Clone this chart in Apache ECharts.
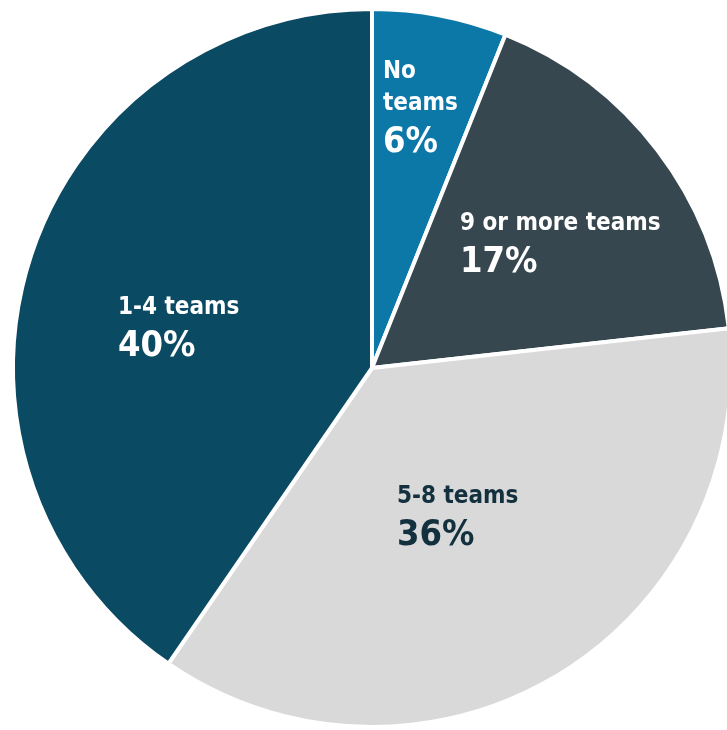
<!DOCTYPE html>
<html>
<head>
<meta charset="utf-8">
<script src="https://cdn.jsdelivr.net/npm/echarts@6/dist/echarts.min.js"></script>
<style>
  html, body { margin: 0; padding: 0; background: #ffffff; }
  #chart { width: 727px; height: 730px; }
</style>
</head>
<body>
<div id="chart"></div>
<script>
// Number of teams per respondent (share, %)
const categories = ['No\nteams', '9 or more teams', '5-8 teams', '1-4 teams'];
const shares = [6, 17, 36, 40];
const sliceColors = ['#0b78a8', '#37474f', '#d9d9d9', '#0b4a63'];
const labelColors = ['#ffffff', '#ffffff', '#13303f', '#ffffff'];
// top-left anchor of each slice's label block
const labelAnchors = [[383, 56], [460, 208], [397, 481], [118, 292]];

const chart = echarts.init(document.getElementById('chart'));
const FONT = '"DejaVu Sans Condensed", "DejaVu Sans", Verdana, sans-serif';

chart.setOption({
  animation: false,
  series: [{
    type: 'pie',
    center: [372, 368],
    radius: [0, 359],
    startAngle: 90,
    clockwise: true,
    itemStyle: { borderColor: '#ffffff', borderWidth: 4 },
    label: {
      show: true,
      position: 'inside',
      formatter: p => '{n|' + p.name + '}\n{v|' + p.value + '%}',
      rich: {
        n: { fontFamily: FONT, fontWeight: 'bold', fontSize: 24, lineHeight: 32 },
        v: { fontFamily: FONT, fontWeight: 'bold', fontSize: 36, lineHeight: 46 }
      }
    },
    labelLayout: params => {
      const a = labelAnchors[params.dataIndex];
      return { x: a[0], y: a[1], align: 'left', verticalAlign: 'top' };
    },
    data: categories.map((c, i) => ({
      name: c,
      value: shares[i],
      itemStyle: { color: sliceColors[i] },
      label: {
        rich: {
          n: { color: labelColors[i] },
          v: { color: labelColors[i] }
        }
      }
    }))
  }]
});
</script>
</body>
</html>
